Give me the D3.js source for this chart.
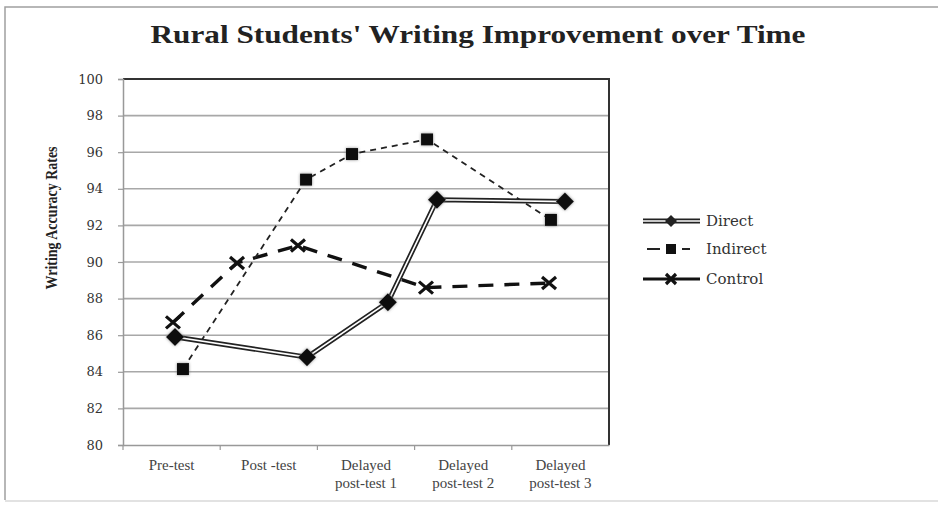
<!DOCTYPE html>
<html><head><meta charset="utf-8">
<script src="https://cdn.jsdelivr.net/npm/d3@7"></script>
<style>body{margin:0;background:#fff;}svg{display:block;}</style>
</head><body>
<svg id="chart" width="938" height="505"></svg>
<script>
// ---- data ----
const categories = ["Pre-test", "Post -test", "Delayed post-test 1", "Delayed post-test 2", "Delayed post-test 3"];
const yTicks = [80, 82, 84, 86, 88, 90, 92, 94, 96, 98, 100];
const seriesNames = ["Direct", "Indirect", "Control"];
// values (writing accuracy rate) per time point
const directValues   = [85.9, 84.8, 87.8, 93.4, 93.3];
const indirectValues = [84.15, 94.5, 95.9, 96.7, 92.3];
const controlValues  = [86.7, 89.95, 90.9, 88.6, 88.85];
// where each point sits along the time axis, in category units (as drawn in the original)
const directTime   = [0.535, 1.893, 2.725, 3.23, 4.547];
const indirectTime = [0.617, 1.883, 2.356, 3.128, 4.403];
const controlTime  = [0.514, 1.173, 1.8, 3.117, 4.383];

const svg = d3.select("#chart");
const W = 938, H = 505;
const plot = {left: 123, right: 609, top: 79, bottom: 445};

// outer frame
svg.append("path").attr("d", `M5,${H-5} L5,7 L${W+2},7`).attr("fill","none").attr("stroke","#a0a0a0").attr("stroke-width",1.5);
svg.append("line").attr("x1",5).attr("x2",W).attr("y1",H-4).attr("y2",H-4).attr("stroke","#d8d8d8").attr("stroke-width",1.5);

const defs = svg.append("defs");
const f = defs.append("filter").attr("id","soft").attr("x","-50%").attr("y","-50%").attr("width","200%").attr("height","200%");
f.append("feGaussianBlur").attr("in","SourceAlpha").attr("stdDeviation",1.6).attr("result","b");
f.append("feFlood").attr("flood-color","#777").attr("flood-opacity",0.8);
f.append("feComposite").attr("in2","b").attr("operator","in").attr("result","s");
const fm = f.append("feMerge");
fm.append("feMergeNode").attr("in","s");
fm.append("feMergeNode").attr("in","SourceGraphic");

const y = d3.scaleLinear().domain([80, 100]).range([plot.bottom, plot.top]);
const xBand = d3.scaleBand().domain(categories).range([plot.left, plot.right]);
const xt = d3.scaleLinear().domain([0, categories.length]).range([plot.left, plot.right]);

// gridlines
svg.append("g").selectAll("line").data(yTicks.filter(t => t > 80 && t < 100)).join("line")
  .attr("x1", plot.left).attr("x2", plot.right)
  .attr("y1", d => y(d)).attr("y2", d => y(d))
  .attr("stroke", "#a8a8a8").attr("stroke-width", 1.6);

// plot border top & right (dark)
svg.append("path").attr("d", `M${plot.left},${y(100)} L${plot.right},${y(100)} L${plot.right},${plot.bottom}`)
  .attr("fill","none").attr("stroke","#333").attr("stroke-width",2);

// y axis
const yAxis = svg.append("g").attr("transform", `translate(${plot.left},0)`)
  .call(d3.axisLeft(y).tickValues(yTicks).tickSize(5).tickPadding(15).tickFormat(d3.format("d")));
yAxis.select(".domain").attr("stroke","#999").attr("stroke-width",1.5);
yAxis.selectAll(".tick line").attr("stroke","#999").attr("stroke-width",1.2);
yAxis.selectAll(".tick text").attr("font-family","'DejaVu Serif', serif").attr("font-size",13).attr("fill","#333");

// x axis
const xAxis = svg.append("g").attr("transform", `translate(0,${plot.bottom})`)
  .call(d3.axisBottom(xBand).tickSize(0).tickFormat(""));
xAxis.select(".domain").attr("stroke","#999").attr("stroke-width",1.5);
svg.append("g").selectAll("line").data(categories).join("line")
  .attr("x1", d => xBand(d)).attr("x2", d => xBand(d))
  .attr("y1", plot.bottom).attr("y2", plot.bottom + 5)
  .attr("stroke","#999").attr("stroke-width",1.2);

const xLabelSplit = c => c.startsWith("Delayed ") ? ["Delayed", c.slice(8)] : [c];
const xl = svg.append("g").selectAll("text").data(categories).join("text")
  .attr("x", d => xBand(d) + xBand.bandwidth()/2)
  .attr("y", plot.bottom + 25)
  .attr("text-anchor","middle")
  .attr("font-family","'Liberation Serif', serif").attr("font-size",15).attr("fill","#444");
xl.each(function(d){
  const parts = xLabelSplit(d);
  d3.select(this).selectAll("tspan").data(parts).join("tspan")
    .attr("x", xBand(d) + xBand.bandwidth()/2)
    .attr("dy", (p,i) => i === 0 ? 0 : 18)
    .text(p => p);
});

// y axis title
svg.append("text").attr("transform","translate(57,218) rotate(-90)")
  .attr("text-anchor","middle").attr("font-family","'Liberation Serif', serif")
  .attr("font-weight","bold").attr("font-size",16).attr("fill","#222")
  .attr("textLength",143).attr("lengthAdjust","spacingAndGlyphs")
  .text("Writing Accuracy Rates");

// title
svg.append("text").attr("x", 478).attr("y", 43).attr("text-anchor","middle")
  .attr("font-family","'Liberation Serif', serif").attr("font-weight","bold")
  .attr("font-size",25).attr("fill","#222")
  .attr("textLength",655).attr("lengthAdjust","spacingAndGlyphs")
  .text("Rural Students' Writing Improvement over Time");

// series
const series = [
  {name: seriesNames[0], vals: directValues, t: directTime},
  {name: seriesNames[1], vals: indirectValues, t: indirectTime},
  {name: seriesNames[2], vals: controlValues, t: controlTime}
];
const line = d3.line().x(d => xt(d[0])).y(d => y(d[1]));
const pts = s => s.t.map((t,i) => [t, s.vals[i]]);

function diamondPath(r){ return `M0,${-r} L${r},0 L0,${r} L${-r},0 Z`; }
function drawMarker(g, name){
  if (name === "Direct") {
    g.append("path").attr("d", diamondPath(9)).attr("fill","#111").attr("filter","url(#soft)");
  } else if (name === "Indirect") {
    g.append("rect").attr("x",-6).attr("y",-6).attr("width",12).attr("height",12).attr("fill","#111").attr("filter","url(#soft)");
  } else {
    g.append("path").attr("d","M-7,-6 L7,6 M-7,6 L7,-6").attr("stroke","#111").attr("stroke-width",3.2).attr("fill","none");
  }
}
function drawLine(sel, name, d){
  if (name === "Direct") {
    sel.append("path").attr("d", d).attr("fill","none").attr("stroke","#222").attr("stroke-width",5);
    sel.append("path").attr("d", d).attr("fill","none").attr("stroke","#fff").attr("stroke-width",1.6);
  } else if (name === "Indirect") {
    sel.append("path").attr("d", d).attr("fill","none").attr("stroke","#222").attr("stroke-width",1.8).attr("stroke-dasharray","6,5");
  } else {
    sel.append("path").attr("d", d).attr("fill","none").attr("stroke","#111").attr("stroke-width",3.4).attr("stroke-dasharray","15,11");
  }
}

["Control","Indirect","Direct"].forEach(n => {
  const s = series.find(q => q.name === n);
  const g = svg.append("g");
  drawLine(g, s.name, line(pts(s)));
  pts(s).forEach(p => {
    const m = g.append("g").attr("transform", `translate(${xt(p[0])},${y(p[1])})`);
    drawMarker(m, s.name);
  });
});

// legend
const legY = [221, 249, 279];
series.forEach((s,i) => {
  const g = svg.append("g").attr("transform", `translate(0,${legY[i]})`);
  if (s.name === "Direct") drawLine(g, s.name, "M643,0 L700,0");
  else if (s.name === "Indirect") {
    g.append("path").attr("d","M647,0 L660,0 M682,0 L690,0").attr("stroke","#222").attr("stroke-width",1.8);
  } else {
    g.append("path").attr("d","M643,0 L700,0").attr("stroke","#111").attr("stroke-width",3.2);
  }
  const m = g.append("g").attr("transform","translate(671,0)");
  if (s.name === "Direct") m.append("path").attr("d", diamondPath(6)).attr("fill","#222");
  else if (s.name === "Indirect") m.append("rect").attr("x",-5).attr("y",-5).attr("width",10).attr("height",10).attr("fill","#111");
  else m.append("path").attr("d","M-5,-5 L5,5 M-5,5 L5,-5").attr("stroke","#111").attr("stroke-width",3.2);
  g.append("text").attr("x",706).attr("y",5).attr("font-family","'DejaVu Serif', serif")
    .attr("font-size",15).attr("fill","#333").text(s.name);
});
</script>
</body></html>
